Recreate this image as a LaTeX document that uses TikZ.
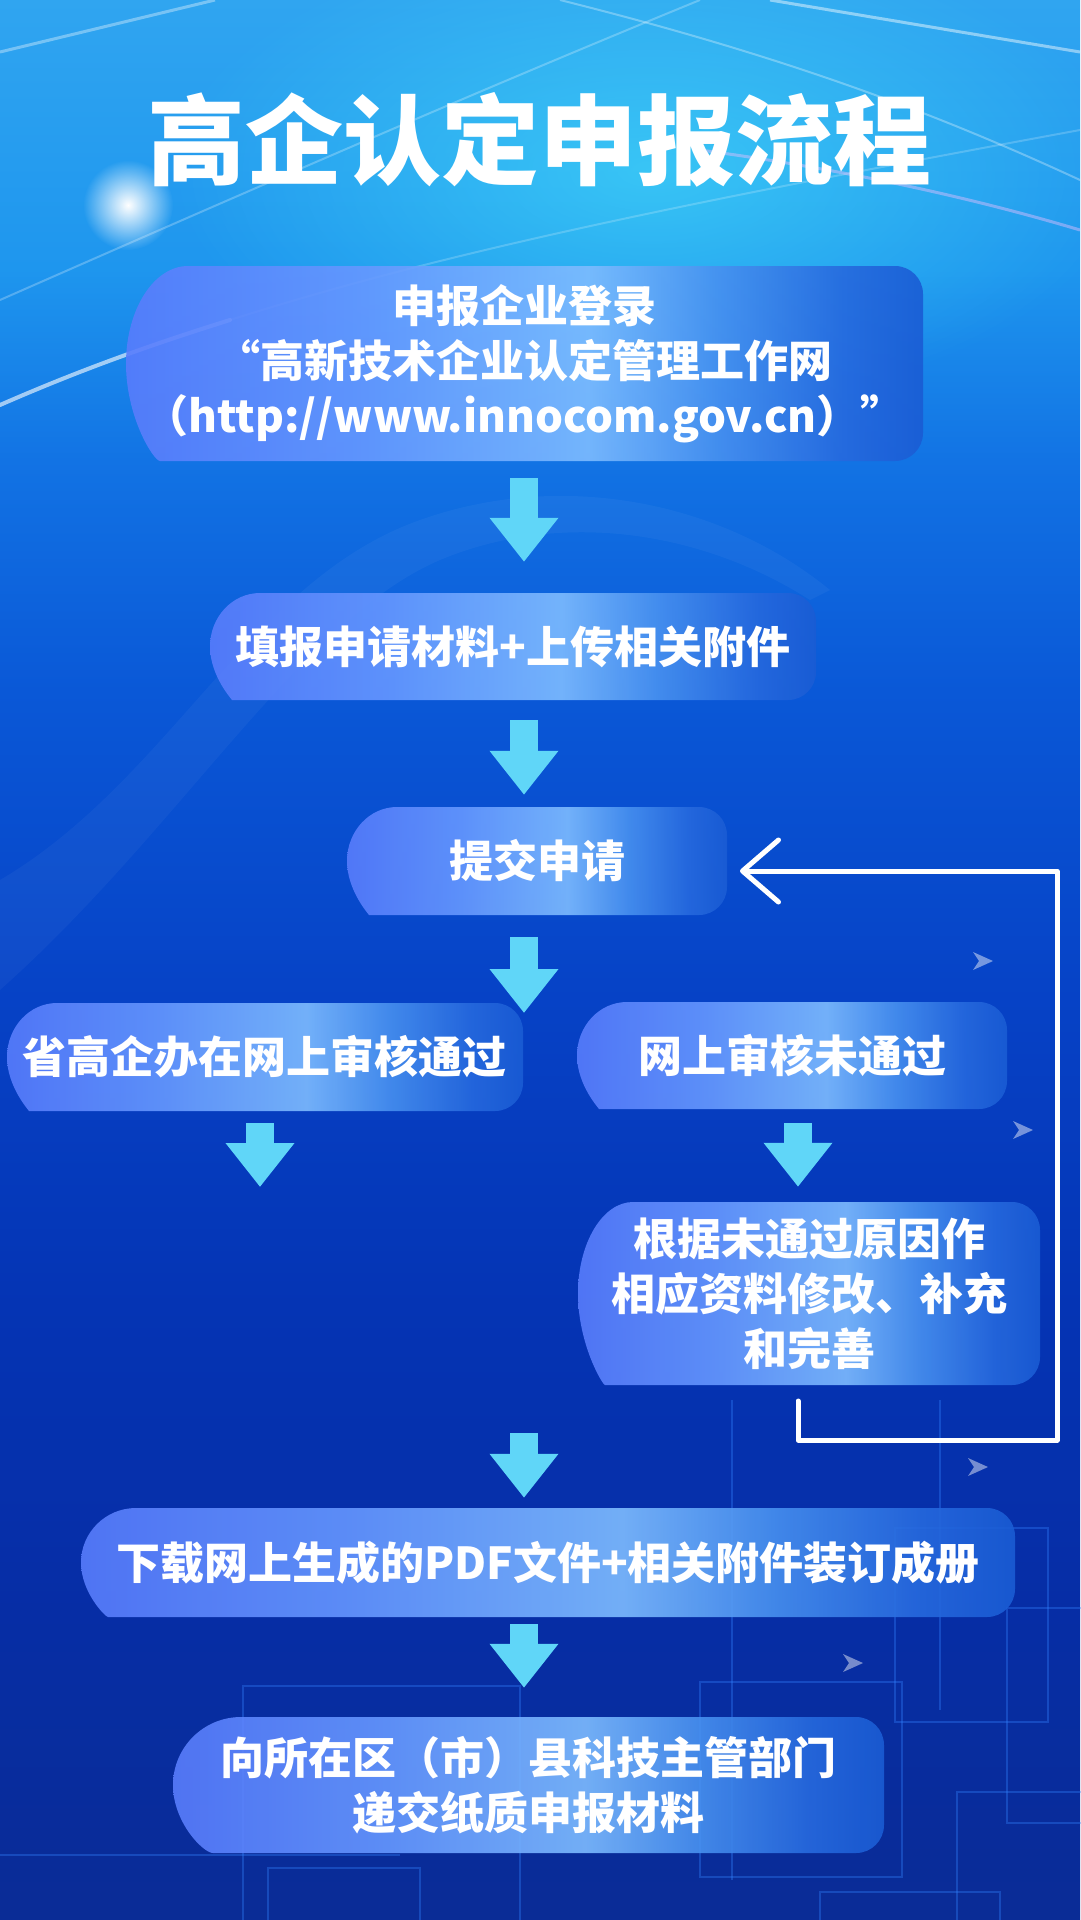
\documentclass[tikz,border=0pt]{standalone}
\usepackage{fontspec}
\newfontfamily\cjk{Noto Sans CJK SC}
\usetikzlibrary{arrows.meta,fadings}
\tikzfading[name=glowfade, inner color=transparent!0, outer color=transparent!100]

\definecolor{bg1}{RGB}{48,165,240}
\definecolor{bg2}{RGB}{30,150,238}
\definecolor{bg3}{RGB}{18,115,228}
\definecolor{bg4}{RGB}{10,88,215}
\definecolor{bg5}{RGB}{6,66,198}
\definecolor{bg6}{RGB}{5,52,180}
\definecolor{bg7}{RGB}{6,45,165}
\definecolor{bg8}{RGB}{10,44,150}
\definecolor{bxA}{RGB}{88,124,252}
\definecolor{bxA2}{RGB}{102,152,255}
\definecolor{bxB}{RGB}{126,188,255}
\definecolor{bxC}{RGB}{72,145,240}
\definecolor{bxD}{RGB}{38,105,222}
\definecolor{bxE}{RGB}{26,92,212}
\definecolor{arrowc}{RGB}{96,214,248}
\definecolor{glowc}{RGB}{70,225,250}
\definecolor{pinkc}{RGB}{230,190,255}
\definecolor{techc}{RGB}{50,130,255}

\pgfdeclarehorizontalshading{boxsh}{100bp}{color(0bp)=(bxA); color(25bp)=(bxA); color(40bp)=(bxA2); color(54bp)=(bxB); color(62bp)=(bxC); color(70bp)=(bxD); color(75bp)=(bxE); color(100bp)=(bxE)}
\pgfdeclareverticalshading{bgsh}{100bp}{color(0bp)=(bg8); color(25bp)=(bg8); color(33bp)=(bg7); color(41bp)=(bg6); color(49bp)=(bg5); color(57bp)=(bg4); color(63bp)=(bg3); color(68bp)=(bg2); color(75bp)=(bg1); color(100bp)=(bg1)}

\tikzset{
  boxtext/.style={inner sep=0pt, text=white, font=\cjk\bfseries\fontsize{44}{55}\selectfont, align=center},
  titletext/.style={inner sep=0pt, text=white, font=\cjk\bfseries\fontsize{98}{98}\selectfont},
  darrow/.style={draw=arrowc, line width=28pt, -{Triangle[length=44pt, width=66pt]}},
  feedback/.style={draw=white, line width=5pt, line cap=round, line join=round, -{Straight Barb[length=36pt, width=62pt, round]}},
  techrect/.style={draw=techc, line width=2.5pt, opacity=.35},
}

% #1 name, #2 x1, #3 y1, #4 x2, #5 y2, #6 left x radius, #7 text
\newcommand\flowbox[7]{%
  \shade[shading=boxsh, opacity=0.9] ({#2+#6},#3) [rounded corners=28pt] -- (#4,#3) -- (#4,#5) -- ({#2+#6},#5) [sharp corners] arc[start angle=90, end angle=270, x radius=#6, y radius={(#5-#3)/2}] -- cycle;
  \node[boxtext, minimum width={(#4-#2)*1pt}, minimum height={(#5-#3)*1pt}] (#1) at ({(#2+#4)/2},{(#3+#5)/2}) {#7};
}

\begin{document}
\begin{tikzpicture}[x=1pt,y=-1pt]
\useasboundingbox (0,0) rectangle (1080,1920);
\shade[shading=bgsh] (0,0) rectangle (1080,1920);

% decorations
\fill[glowc, path fading=glowfade, opacity=.6] (650,170) ellipse [x radius=480, y radius=240];
\draw[white, opacity=.35, line width=3pt] (0,52) -- (215,0);
\draw[white, opacity=.25, line width=2pt] (0,300) .. controls (250,190) and (480,90) .. (700,0);
\draw[white, opacity=.6, line width=4pt, line cap=round] (0,405) .. controls (80,370) and (150,345) .. (230,320);
\draw[white, opacity=.2, line width=2pt] (230,320) .. controls (450,250) and (700,200) .. (1080,130);
\draw[white, opacity=.45, line width=3pt] (770,0) -- (1080,52);
\draw[white, opacity=.3, line width=2pt] (560,0) .. controls (800,60) and (950,120) .. (1080,180);
\draw[pinkc, opacity=.45, line width=3pt] (700,150) .. controls (850,170) and (980,200) .. (1080,230);
\fill[white, path fading=glowfade] (128,205) circle (45);
\fill[white, opacity=.04] (0,880) .. controls (170,780) and (250,580) .. (420,520) .. controls (560,470) and (720,500) .. (830,590) -- (810,600) .. controls (700,530) and (560,510) .. (440,560) .. controls (300,620) and (180,830) .. (0,990) -- cycle;
\draw[techrect] (895,1528) rectangle (1048,1722);
\draw[techrect] (700,1682) rectangle (902,1877);
\draw[techrect] (1007,1608) rectangle (1090,1823);
\draw[techrect] (957,1792) rectangle (1090,1930);
\draw[techrect] (820,1892) rectangle (1000,1930);
\draw[techrect] (732,1400) -- (732,1880);
\draw[techrect] (940,1400) -- (940,1710);
\draw[techrect] (243,1686) rectangle (520,1930);
\draw[techrect] (268,1868) rectangle (420,1930);
\draw[techrect] (0,1855) -- (400,1855);
\foreach \px/\py in {993/961, 1033/1130, 988/1467, 863/1663}
  \fill[white, opacity=.45] (\px,\py) -- ++(-20,-9) -- ++(6,9) -- ++(-6,9) -- cycle;

% title
\node[titletext] (title) at (539,140) {高企认定申报流程};

% boxes
\flowbox{b1}{126}{266}{923}{461}{62}{申报企业登录\\“高新技术企业认定管理工作网\\（http://www.innocom.gov.cn）”}
\flowbox{b2}{210}{593}{816}{700}{50}{填报申请材料+上传相关附件}
\flowbox{b3}{347}{807}{727}{915}{50}{提交申请}
\flowbox{b4}{7}{1003}{523}{1111}{50}{省高企办在网上审核通过}
\flowbox{b5}{577}{1002}{1007}{1109}{50}{网上审核未通过}
\flowbox{b6}{578}{1202}{1040}{1385}{55}{根据未通过原因作\\相应资料修改、补充\\和完善}
\flowbox{b7}{81}{1508}{1015}{1617}{55}{下载网上生成的PDF文件+相关附件装订成册}
\flowbox{b8}{173}{1717}{884}{1853}{68}{向所在区（市）县科技主管部门\\递交纸质申报材料}

% helper coordinates
\coordinate (colx) at (524,0);
\coordinate (split) at (524,1013);
\coordinate (leftend) at (260,1187);
\coordinate (rightx) at (798,0);
\coordinate (merge) at (524,1433);
\coordinate (fbA) at (798,1401);
\coordinate (fbB) at (1057,1440);
\coordinate (fbC) at (740,871);

% arrows
\draw[darrow, shorten <=17pt, shorten >=31pt] (b1.south -| colx) -- (b2.north -| colx);
\draw[darrow, shorten <=20pt, shorten >=12pt] (b2.south -| colx) -- (b3.north -| colx);
\draw[darrow, shorten <=22pt] (b3.south -| colx) -- (split);
\draw[darrow, shorten <=12pt] (b4.south -| leftend) -- (leftend);
\draw[darrow, shorten <=14pt, shorten >=15pt] (b5.south -| rightx) -- (b6.north -| rightx);
\draw[darrow, shorten >=10pt] (merge) -- (b7.north -| colx);
\draw[darrow, shorten <=7pt, shorten >=29pt] (b7.south -| colx) -- (b8.north -| colx);

% feedback loop
\draw[feedback] (fbA) |- (fbB) |- (fbC);
\end{tikzpicture}
\end{document}
